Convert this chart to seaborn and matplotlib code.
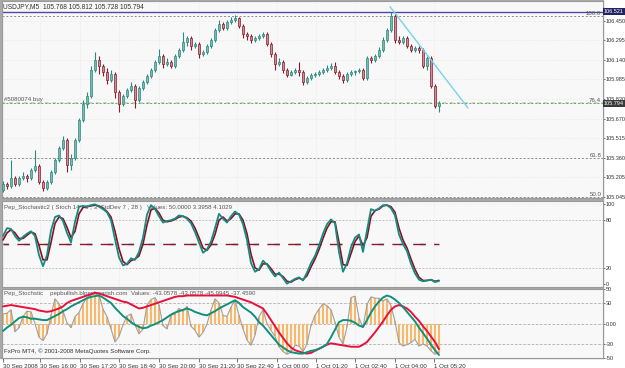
import matplotlib
matplotlib.use("Agg")
import matplotlib.pyplot as plt
from matplotlib.patches import Rectangle
import numpy as np
import pandas as pd
import seaborn as sns

# ---- price bars (USDJPY, M5) ----
opens = [105.103, 105.151, 105.135, 105.199, 105.151, 105.199, 105.215, 105.199, 105.262, 105.294,
         105.167, 105.119, 105.167, 105.247, 105.342, 105.438, 105.501, 105.302, 105.358, 105.501,
         105.660, 105.788, 105.851, 106.058, 106.138, 106.090, 106.042, 105.979, 106.026, 105.883,
         105.788, 105.851, 105.899, 105.931, 105.819, 105.915, 105.963, 106.010, 106.058, 106.122,
         106.170, 106.106, 106.122, 106.090, 106.170, 106.217, 106.281, 106.313, 106.249, 106.265,
         106.185, 106.201, 106.249, 106.297, 106.376, 106.424, 106.392, 106.440, 106.456, 106.472,
         106.408, 106.345, 106.329, 106.297, 106.313, 106.329, 106.345, 106.265, 106.185, 106.106,
         106.122, 106.058, 106.018, 106.042, 106.058, 106.042, 105.963, 105.994, 106.018, 106.026,
         106.042, 106.058, 106.074, 106.090, 106.042, 106.010, 105.979, 106.026, 106.042, 106.050,
         106.058, 105.994, 106.154, 106.138, 106.170, 106.217, 106.297, 106.376, 106.488, 106.297,
         106.281, 106.313, 106.249, 106.217, 106.233, 106.217, 106.090, 106.154, 105.931, 105.768]
highs = [105.175, 105.167, 105.342, 105.215, 105.215, 105.247, 105.231, 105.278, 105.422, 105.310,
         105.183, 105.183, 105.262, 105.358, 105.453, 105.533, 105.517, 105.390, 105.517, 105.676,
         105.819, 105.883, 106.090, 106.201, 106.170, 106.106, 106.074, 106.058, 106.042, 105.899,
         105.867, 105.915, 105.963, 105.947, 105.931, 105.979, 106.026, 106.074, 106.138, 106.225,
         106.185, 106.154, 106.138, 106.185, 106.233, 106.360, 106.329, 106.329, 106.281, 106.281,
         106.217, 106.265, 106.313, 106.392, 106.456, 106.440, 106.456, 106.480, 106.496, 106.480,
         106.424, 106.360, 106.345, 106.329, 106.345, 106.360, 106.360, 106.281, 106.201, 106.154,
         106.138, 106.074, 106.058, 106.074, 106.122, 106.058, 106.010, 106.034, 106.042, 106.058,
         106.074, 106.098, 106.114, 106.122, 106.058, 106.026, 106.042, 106.058, 106.058, 106.074,
         106.074, 106.170, 106.170, 106.185, 106.241, 106.321, 106.392, 106.521, 106.504, 106.329,
         106.329, 106.329, 106.265, 106.249, 106.249, 106.233, 106.170, 106.170, 105.947, 105.812]
lows = [105.087, 105.111, 105.119, 105.135, 105.135, 105.183, 105.167, 105.183, 105.247, 105.151,
        105.095, 105.103, 105.151, 105.231, 105.326, 105.422, 105.247, 105.262, 105.342, 105.485,
        105.644, 105.756, 105.835, 106.042, 106.026, 106.010, 105.947, 105.963, 105.835, 105.724,
        105.772, 105.835, 105.883, 105.756, 105.804, 105.899, 105.947, 105.994, 106.042, 106.106,
        106.074, 106.090, 106.074, 106.074, 106.154, 106.201, 106.249, 106.217, 106.233, 106.154,
        106.170, 106.185, 106.233, 106.281, 106.360, 106.376, 106.376, 106.424, 106.440, 106.392,
        106.313, 106.297, 106.273, 106.281, 106.297, 106.313, 106.249, 106.162, 106.058, 106.090,
        106.034, 106.002, 106.010, 106.026, 106.010, 105.939, 105.947, 105.979, 106.002, 106.010,
        106.026, 106.042, 106.058, 106.026, 105.987, 105.955, 105.963, 106.010, 106.018, 106.034,
        105.979, 105.979, 106.114, 106.122, 106.154, 106.201, 106.281, 106.360, 106.273, 106.265,
        106.265, 106.233, 106.201, 106.201, 106.193, 106.074, 106.058, 105.915, 105.756, 105.728]
closes = [105.151, 105.135, 105.199, 105.151, 105.199, 105.215, 105.199, 105.262, 105.294, 105.167,
          105.119, 105.167, 105.247, 105.342, 105.438, 105.501, 105.302, 105.358, 105.501, 105.660,
          105.788, 105.851, 106.058, 106.138, 106.090, 106.042, 105.979, 106.026, 105.883, 105.788,
          105.851, 105.899, 105.931, 105.819, 105.915, 105.963, 106.010, 106.058, 106.122, 106.170,
          106.106, 106.122, 106.090, 106.170, 106.217, 106.281, 106.313, 106.249, 106.265, 106.185,
          106.201, 106.249, 106.297, 106.376, 106.424, 106.392, 106.440, 106.456, 106.472, 106.408,
          106.345, 106.329, 106.297, 106.313, 106.329, 106.345, 106.265, 106.185, 106.106, 106.122,
          106.058, 106.018, 106.042, 106.058, 106.042, 105.963, 105.994, 106.018, 106.026, 106.042,
          106.058, 106.074, 106.090, 106.042, 106.010, 105.979, 106.026, 106.042, 106.050, 106.058,
          105.994, 106.154, 106.138, 106.170, 106.217, 106.297, 106.376, 106.488, 106.297, 106.281,
          106.313, 106.249, 106.217, 106.233, 106.217, 106.090, 106.154, 105.931, 105.768, 105.794]

# ---- Pep_Stochastic2 ----
stoch_main = [60, 70, 69, 60, 54, 59, 63, 66, 60, 36, 22, 36, 67, 84, 86, 79, 64, 52, 78, 97,
              98, 97, 99, 100, 97, 94, 90, 80, 56, 33, 23, 25, 32, 30, 40, 58, 87, 99, 94, 85,
              77, 79, 80, 82, 86, 85, 82, 76, 65, 52, 39, 43, 53, 70, 88, 82, 77, 85, 91, 87,
              75, 55, 26, 15, 18, 29, 24, 16, 9, 14, 7, 0, 3, 6, 8, 4, 14, 26, 35, 48,
              63, 75, 81, 76, 40, 15, 26, 46, 58, 62, 40, 67, 94, 92, 95, 99, 99, 95, 86, 62,
              50, 41, 25, 13, 5, 3, 4, 5, 2, 3.4]
stoch_signal = [55, 64, 68, 64, 57, 57, 61, 65, 63, 48, 30, 30, 52, 76, 84, 82, 71, 58, 66, 88,
                96, 97, 98, 99, 98, 95, 91, 84, 66, 44, 28, 24, 29, 31, 35, 50, 74, 93, 95, 89,
                80, 78, 79, 81, 84, 85, 83, 79, 70, 58, 45, 42, 49, 62, 80, 84, 79, 82, 88, 88,
                80, 63, 37, 20, 17, 25, 25, 19, 12, 12, 9, 3, 2, 5, 7, 5, 10, 21, 31, 43,
                57, 70, 78, 78, 52, 24, 23, 38, 53, 60, 48, 58, 85, 92, 94, 98, 99, 97, 90, 70,
                55, 45, 31, 18, 8, 4, 4, 5, 3, 4.1]

# ---- Pep_Stochstic ----
osc_hist = [14, 15, 20, -12, -6, 10, 18, 17, 0, -20, -25, -15, 12, 36, 29, 18, 1, -6, 10, 16,
            29, 38, 42, 44, 42, 21, 10, -8, -27, -19, -2, 11, 14, -2, -15, -8, 27, 35, 38, 27,
            -3, -8, 12, 14, 22, 18, 25, -4, -10, -20, -13, -1, 20, 36, 30, 12, 10, 24, 34, 12,
            -8, -24, -32, -17, 10, 20, 0, -10, -19, -34, -41, -45, -42, -32, -33, -41, -30, -3, 12, 21,
            29, 26, 20, 2, -20, -30, -5, 38, 40, 8, -6, 28, 39, 37, 37, 33, 36, 26, 3, -28,
            -33, -31, -28, -23, -33, -30, -33, -40, -45, -43]
osc_fast = [-11, -6, -2, 3, 8, 10, 9, 7, 7, 6, 5, 5, 8, 11, 14, 18, 21, 25, 28, 31,
            34, 37, 39, 40, 41, 38, 34, 30, 23, 17, 11, 7, 2, -2, -5, -7, -6, -3, -1, 2,
            5, 9, 13, 16, 18, 20, 22, 20, 17, 15, 13, 12, 15, 18, 22, 25, 28, 31, 34, 30,
            24, 20, 16, 10, 2, -3, -10, -17, -24, -31, -35, -39, -42, -43, -44, -44, -42, -40, -39, -37,
            -34, -30, -20, -9, 2, 5, 5, 4, 1, -3, -5, 5, 16, 25, 32, 38, 41, 39, 35, 30,
            24, 17, 10, 3, -6, -14, -22, -31, -39, -46]
osc_slow = [25, 26, 27, 26, 25, 24, 23, 22, 21, 19, 18, 17, 18, 20, 22, 25, 30, 33, 35, 37,
            39, 41, 43, 45, 44, 42, 40, 38, 36, 34, 32, 31, 28, 25, 22, 23, 25, 27, 29, 31,
            33, 35, 37, 39, 40, 40, 41, 41, 41, 41, 41, 41, 41, 41, 41, 41, 41, 40, 39, 37,
            35, 33, 31, 28, 25, 22, 14, 5, -4, -13, -21, -29, -35, -39, -41, -43, -44, -43, -40, -37,
            -34, -31, -29, -30, -31, -32, -33, -34, -34, -34, -31, -27, -20, -13, -5, 3, 12, 20, 25, 27,
            25, 22, 17, 10, 4, -4, -11, -19, -27, -37.5]

# ---- objects / axis labels ----
trend_bars = [96.75, 116.25]
trend_prices = [106.562, 105.756]
fib_names = ["100.0", "76.4", "61.8", "50.0"]
fib_prices = [106.490, 105.795, 105.360, 105.047]
price_ticks = [106.450, 106.295, 106.140, 105.985, 105.830, 105.670, 105.515, 105.360, 105.205, 105.045]
time_bars = [0, 9.25, 19.25, 29, 39, 49, 58.5, 68.5, 78.25, 88, 98, 107.75]
time_labels = ["30 Sep 2008", "30 Sep 16:00", "30 Sep 17:20", "30 Sep 18:40", "30 Sep 20:00",
               "30 Sep 21:20", "30 Sep 22:40", "1 Oct 00:00", "1 Oct 01:20", "1 Oct 02:40",
               "1 Oct 04:00", "1 Oct 05:20"]

df = pd.DataFrame({"bar": np.arange(len(closes)), "open": opens, "high": highs, "low": lows,
                   "close": closes, "k": stoch_main, "d": stoch_signal,
                   "hist": osc_hist, "fast": osc_fast, "slow": osc_slow})

sns.set_style("white")
plt.rcParams["font.family"] = ["Liberation Sans", "DejaVu Sans"]

W, H = 625, 368
fig = plt.figure(figsize=(W / 100, H / 100), dpi=100)
fig.patches.append(Rectangle((0, 1 - 358 / H), 603 / W, 358 / H, transform=fig.transFigure,
                             color="#a9a9a9", zorder=-5))


def box(x0, y0, x1, y1):
    return [x0 / W, 1 - y1 / H, (x1 - x0) / W, (y1 - y0) / H]


ax1 = fig.add_axes(box(2, 1, 603, 198))
ax2 = fig.add_axes(box(2, 201, 603, 287), sharex=ax1)
ax3 = fig.add_axes(box(2, 289, 603, 358), sharex=ax1)

txt = "#333333"
fs = 4.4
for ax in (ax1, ax2, ax3):
    ax.set_facecolor("#f8f8f8")
    for s in ax.spines.values():
        s.set_color("#9a9a9a")
        s.set_linewidth(0.8)
    ax.yaxis.tick_right()
    ax.tick_params(axis="y", length=1.5, width=0.6, color="#606060", labelsize=4.0,
                   pad=0.6, labelcolor=txt)
    ax.grid(True, color="#e6e6e6", ls=":", lw=0.6)

ax1.set_xlim(-0.25, 150)

# ---- main chart ----
up = df["close"] >= df["open"]
edge = np.where(up, "#2a8a80", "#8a1a2a")
face = np.where(up, "#7cb8b0", "#c4939a")
ax1.vlines(df["bar"], df["low"], df["high"], colors=edge, lw=0.8, zorder=3)
body = (df["close"] - df["open"]).abs().clip(lower=0.004)
ax1.bar(df["bar"], body, bottom=df[["open", "close"]].min(axis=1), width=0.62,
        color=face, edgecolor=edge, linewidth=0.5, zorder=4)

ax1.axhline(106.521, color="#4b4ba0", lw=1.0, zorder=2)
ax1.axhline(fib_prices[1], color="#a8e6a0", lw=1.3, ls=(0, (2, 2)), zorder=2)
for name, p in zip(fib_names, fib_prices):
    ax1.axhline(p, color="#8c8c8c", lw=0.7, ls=(0, (2, 2)), zorder=2)
    ax1.text(0.997, p, name, transform=ax1.get_yaxis_transform(), ha="right", va="bottom",
             fontsize=fs, color="#555555")
ax1.plot(trend_bars, trend_prices, color="#78d2f2", lw=1.0, zorder=5)
ax1.text(0.004, fib_prices[1] + 0.012, "#5080074 buy", transform=ax1.get_yaxis_transform(),
         fontsize=fs, color="#555555", va="bottom")
ax1.text(0.002, 0.988, "USDJPY,M5  105.768 105.812 105.728 105.794", transform=ax1.transAxes,
         fontsize=4.8, color=txt, va="top")

ax1.set_ylim(105.040, 106.607)
ax1.set_yticks(price_ticks)
ax1.set_yticklabels([f"{p:.3f}" for p in price_ticks])
ax1.tick_params(axis="x", bottom=False, labelbottom=False)
for p, fc in [(106.521, "#222266"), (105.794, "#3a3a3a")]:
    ax1.text(1.0015, p, f"{p:.3f}", transform=ax1.get_yaxis_transform(), fontsize=4.0,
             color="white", va="center", ha="left",
             bbox=dict(boxstyle="square,pad=0.15", fc=fc, ec="none"), clip_on=False, zorder=10)

# ---- stochastic panel ----
ax2.axhline(80, color="#b8b8b8", lw=0.6, ls=(0, (2, 2)))
ax2.axhline(20, color="#b8b8b8", lw=0.6, ls=(0, (2, 2)))
ax2.plot([0, df["bar"].iloc[-1]], [50, 50], color="#2a8a80", lw=1.0, ls=(0, (4, 11)))
ax2.plot([0, df["bar"].iloc[-1]], [50, 50], color="#8a1a2a", lw=1.0, ls=(5, (9, 6)))
ax2.text(0.004, 0.95, "Pep_Stochastic2 ( Stoch 14 , 3 , 3  StdDev 7 , 28 )   Values: 50.0000 3.3958 4.1029",
         transform=ax2.transAxes, fontsize=fs, color="#555555", va="top", zorder=1)
sns.lineplot(data=df, x="bar", y="d", ax=ax2, color="#8a1020", lw=1.2, zorder=4)
sns.lineplot(data=df, x="bar", y="k", ax=ax2, color="#168a82", lw=1.3, zorder=5)
ax2.set_ylim(-4.2, 104.2)
ax2.set_yticks([100, 80, 20, 0])
ax2.tick_params(axis="x", bottom=False, labelbottom=False)
ax2.set_xlabel("")
ax2.set_ylabel("")

# ---- oscillator panel ----
for lv in (30, 0, -30):
    ax3.axhline(lv, color="#b0b0b0", lw=0.6, ls=(0, (3, 2)))
ax3.vlines(df["bar"], 0, df["hist"], colors="#f7b86a", lw=1.5, zorder=2)
sns.lineplot(data=df, x="bar", y="hist", ax=ax3, color="#a0a0a0", lw=0.8, zorder=3)
sns.lineplot(data=df, x="bar", y="slow", ax=ax3, color="#e8103c", lw=1.4, zorder=5)
sns.lineplot(data=df, x="bar", y="fast", ax=ax3, color="#10907c", lw=1.4, zorder=6)
ax3.text(0.004, 0.97, "Pep_Stochstic    pepbullish.blpepbearish.com  Values: -43.0578 -43.0578 -45.9945 -37.4590",
         transform=ax3.transAxes, fontsize=fs, color="#555555", va="top", zorder=1)
ax3.text(0.004, 0.06, "FxPro MT4, \u00a9 2001-2008 MetaQuotes Software Corp.", transform=ax3.transAxes,
         fontsize=fs, color=txt, va="bottom", zorder=8)
ax3.set_ylim(-50.5, 50.5)
ax3.set_yticks([50, 30, 0, -30, -50])
ax3.set_yticklabels(["50", "30", "0.00", "-30", "-50"])
ax3.set_xticks(time_bars)
ax3.set_xticklabels(time_labels, ha="left")
ax3.tick_params(axis="x", bottom=True, length=3, width=0.6, color="#606060", labelsize=fs,
                pad=1, labelcolor=txt)
ax3.set_xlabel("")
ax3.set_ylabel("")

fig.savefig("out.png", dpi=100)
